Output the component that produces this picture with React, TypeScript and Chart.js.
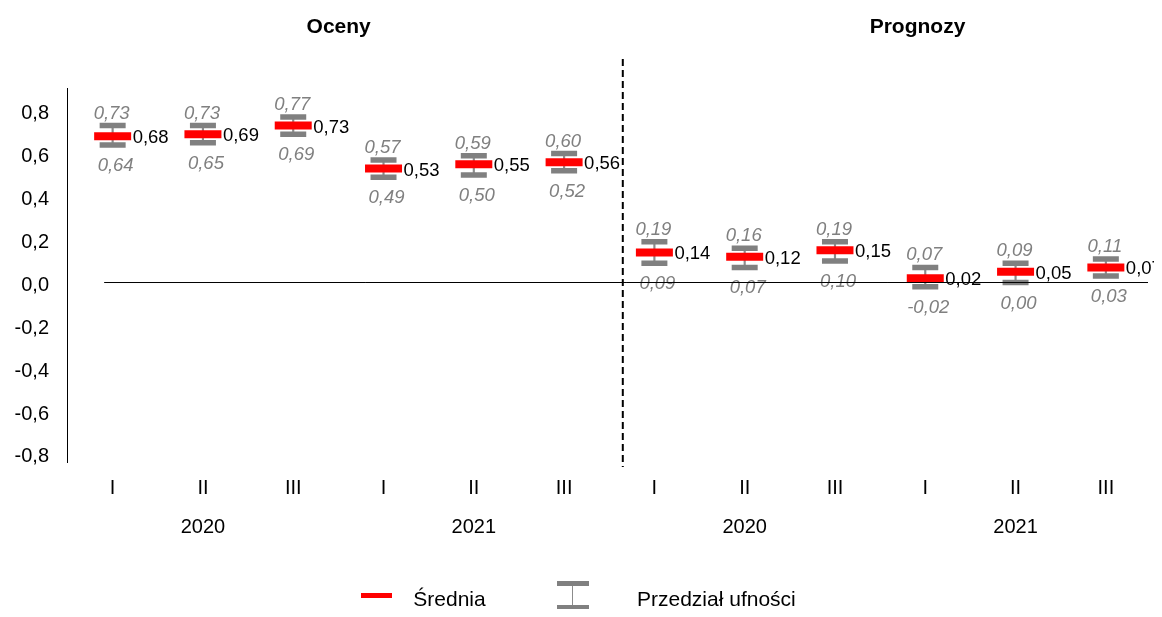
import { useEffect, useRef } from 'react';
import { Chart, registerables } from 'chart.js';

Chart.register(...registerables);

const QUARTERS = ['I', 'II', 'III', 'I', 'II', 'III', 'I', 'II', 'III', 'I', 'II', 'III'];
const YEARS = ['', '2020', '', '', '2021', '', '', '2020', '', '', '2021', ''];
const MEAN = [0.68, 0.69, 0.73, 0.53, 0.55, 0.56, 0.14, 0.12, 0.15, 0.02, 0.05, 0.07];
const UPPER = [0.73, 0.73, 0.77, 0.57, 0.59, 0.6, 0.19, 0.16, 0.19, 0.07, 0.09, 0.11];
const LOWER = [0.64, 0.65, 0.69, 0.49, 0.5, 0.52, 0.09, 0.07, 0.1, -0.02, 0.0, 0.03];
const Y_TICKS = [-0.8, -0.6, -0.4, -0.2, 0, 0.2, 0.4, 0.6, 0.8];
const SECTION_TITLES = ['Oceny', 'Prognozy'];
const LEGEND_LABELS = ['Średnia', 'Przedział ufności'];

const FONT = '"Liberation Sans", Arial, Helvetica, sans-serif';
const RED = '#FF0000';
const GRAY = '#808080';
const STEM = '#8c8c8c';

const W = 1146;
const H = 601;
const LEG_Y = -8; // legend shifted up so it stays inside the visible frame

const fmt = (v: number, d: number) => v.toFixed(d).replace('.', ',');

const noPad = (s: any) => {
  s.paddingLeft = 0;
  s.paddingRight = 0;
  s.paddingTop = 0;
  s.paddingBottom = 0;
};

const overlayPlugin = {
  id: 'overlay',
  afterDatasetsDraw(chart: any) {
    const { ctx, chartArea } = chart;
    const xs = chart.scales.x;
    const ys = chart.scales.y;
    ctx.save();
    // value labels
    for (let i = 0; i < MEAN.length; i++) {
      const x = xs.getPixelForValue(i);
      ctx.textBaseline = 'alphabetic';
      ctx.font = `18.5px ${FONT}`;
      ctx.fillStyle = '#000';
      ctx.textAlign = 'left';
      ctx.fillText(fmt(MEAN[i], 2), x + 20, ys.getPixelForValue(MEAN[i]) + 7);
      ctx.font = `italic 18.5px ${FONT}`;
      ctx.fillStyle = GRAY;
      ctx.textAlign = 'center';
      ctx.fillText(fmt(UPPER[i], 2), x - 1, ys.getPixelForValue(UPPER[i]) - 7);
      ctx.fillText(fmt(LOWER[i], 2), x + 3, ys.getPixelForValue(LOWER[i]) + 26);
    }
    // zero line
    const y0 = ys.getPixelForValue(0);
    ctx.strokeStyle = '#000';
    ctx.lineWidth = 1;
    ctx.beginPath();
    ctx.moveTo(xs.getPixelForValue(0) - 8.5, y0);
    ctx.lineTo(chartArea.right - 3, y0);
    ctx.stroke();
    // dashed divider between estimates and forecasts
    const x5 = xs.getPixelForValue(5);
    const x6 = xs.getPixelForValue(6);
    const xd = x5 + 0.65 * (x6 - x5);
    ctx.setLineDash([7, 4]);
    ctx.lineWidth = 2;
    ctx.beginPath();
    ctx.moveTo(xd, chartArea.top - 29);
    ctx.lineTo(xd, chartArea.bottom + 5);
    ctx.stroke();
    ctx.restore();
  },
};

export default function App() {
  const ref = useRef<HTMLCanvasElement | null>(null);

  useEffect(() => {
    if (!ref.current) return;
    const chart = new Chart(ref.current, {
      type: 'bar',
      data: {
        labels: QUARTERS,
        datasets: [
          {
            type: 'line',
            label: LEGEND_LABELS[0],
            data: MEAN,
            showLine: false,
            pointStyle: 'line',
            pointRadius: 18.5,
            pointHoverRadius: 18.5,
            pointBorderWidth: 8,
            pointHoverBorderWidth: 8,
            pointBorderColor: RED,
            pointBackgroundColor: RED,
            order: 0,
          } as any,
          {
            type: 'line',
            label: 'upper',
            data: UPPER,
            showLine: false,
            pointStyle: 'line',
            pointRadius: 13,
            pointHoverRadius: 13,
            pointBorderWidth: 5.5,
            pointHoverBorderWidth: 5.5,
            pointBorderColor: GRAY,
            pointBackgroundColor: GRAY,
            order: 1,
          } as any,
          {
            type: 'line',
            label: 'lower',
            data: LOWER,
            showLine: false,
            pointStyle: 'line',
            pointRadius: 13,
            pointHoverRadius: 13,
            pointBorderWidth: 5.5,
            pointHoverBorderWidth: 5.5,
            pointBorderColor: GRAY,
            pointBackgroundColor: GRAY,
            order: 1,
          } as any,
          {
            type: 'bar',
            label: LEGEND_LABELS[1],
            data: LOWER.map((lo, i) => [lo, UPPER[i]]),
            backgroundColor: STEM,
            barThickness: 1.5,
            order: 2,
          } as any,
        ],
      },
      options: {
        animation: false,
        responsive: false,
        maintainAspectRatio: false,
        layout: { autoPadding: false, padding: { top: 80, right: 3, left: 0, bottom: 0 } },
        plugins: { legend: { display: false }, tooltip: { enabled: false } },
        events: [],
        scales: {
          x: {
            type: 'category',
            offset: true,
            grid: { display: false, drawTicks: false },
            border: { display: false },
            ticks: {
              autoSkip: false,
              maxRotation: 0,
              padding: 14,
              color: '#000',
              font: { family: FONT, size: 20 },
            },
            afterFit: (s: any) => {
              s.height = 40;
              noPad(s);
            },
          },
          x2: {
            type: 'category',
            labels: YEARS,
            position: 'bottom',
            offset: true,
            weight: 1,
            grid: { display: false, drawTicks: false },
            border: { display: false },
            ticks: {
              autoSkip: false,
              maxRotation: 0,
              padding: 13,
              color: '#000',
              font: { family: FONT, size: 20 },
            },
            afterFit: (s: any) => {
              s.height = H - 454 - 40;
              noPad(s);
            },
          },
          y: {
            type: 'linear',
            min: -0.835,
            max: 0.905,
            grid: { display: false, drawTicks: false },
            border: { display: true, color: '#000', width: 1 },
            afterBuildTicks: (s: any) => {
              s.ticks = Y_TICKS.map((v) => ({ value: v }));
            },
            ticks: {
              padding: 18.5,
              labelOffset: 2.5,
              color: '#000',
              font: { family: FONT, size: 20 },
              callback: (v: any) => fmt(Number(v), 1),
            },
            afterFit: (s: any) => {
              s.width = 59.5;
              noPad(s);
            },
          },
        },
      } as any,
      plugins: [overlayPlugin],
    });
    return () => chart.destroy();
  }, []);

  const textBase: any = {
    position: 'absolute',
    fontFamily: FONT,
    fontSize: '21px',
    lineHeight: '21px',
    color: '#000',
    whiteSpace: 'nowrap',
  };

  return (
    <div style={{ position: 'relative', width: W, height: H }}>
      <canvas ref={ref} width={W} height={H} style={{ display: 'block', width: W, height: H }} />
      <div style={{ ...textBase, fontWeight: 'bold', left: 330.7, top: 6.7, transform: 'translateX(-50%)' }}>
        {SECTION_TITLES[0]}
      </div>
      <div style={{ ...textBase, fontWeight: 'bold', left: 909.5, top: 6.7, transform: 'translateX(-50%)' }}>
        {SECTION_TITLES[1]}
      </div>
      <div style={{ position: 'absolute', left: 352.7, top: 592.5 + LEG_Y, width: 31.6, height: 5.5, background: RED }} />
      <div style={{ ...textBase, left: 405.3, top: 588.2 + LEG_Y }}>{LEGEND_LABELS[0]}</div>
      <div style={{ position: 'absolute', left: 548.7, top: 581 + LEG_Y, width: 32, height: 5, background: GRAY }} />
      <div style={{ position: 'absolute', left: 563.8, top: 586 + LEG_Y, width: 1.5, height: 18.7, background: STEM }} />
      <div style={{ position: 'absolute', left: 548.7, top: 604.7 + LEG_Y, width: 32, height: 4.3, background: GRAY }} />
      <div style={{ ...textBase, left: 629, top: 588.2 + LEG_Y }}>{LEGEND_LABELS[1]}</div>
    </div>
  );
}
